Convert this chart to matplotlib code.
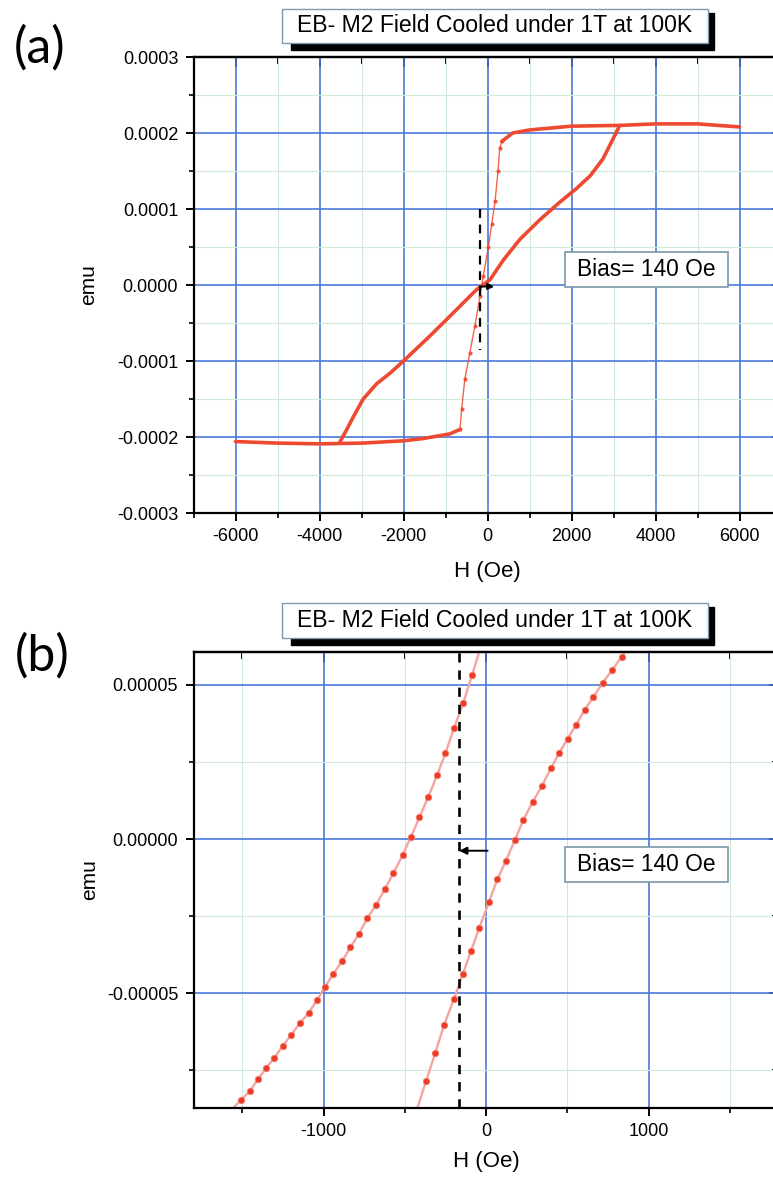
import matplotlib
matplotlib.use('Agg')
import matplotlib.pyplot as plt
import matplotlib.patches as patches
from matplotlib.ticker import MultipleLocator, FormatStrFormatter

plt.rcParams['font.family'] = ['Liberation Sans', 'DejaVu Sans']
plt.rcParams['axes.unicode_minus'] = False

# ---- (a) full hysteresis loop, H in Oe, moment in emu ----
# descending branch: saturation plateau, fast switch, negative plateau
h_top = [6000, 5000, 4000, 3150, 2000, 1000, 600, 340]
m_top = [2.08e-4, 2.12e-4, 2.12e-4, 2.10e-4, 2.09e-4, 2.04e-4, 2.00e-4, 1.89e-4]
h_switch = [340, 290, 250, 180, 100, 20, -100, -180, -300, -420, -540, -615, -655]
m_switch = [1.89e-4, 1.80e-4, 1.50e-4, 1.10e-4, 8.0e-5, 5.0e-5, 1.2e-5, -1.5e-5,
            -5.4e-5, -8.9e-5, -1.24e-4, -1.63e-4, -1.90e-4]
h_bottom = [-655, -900, -1530, -2000, -2960, -3990, -5020, -6000]
m_bottom = [-1.90e-4, -1.96e-4, -2.02e-4, -2.05e-4, -2.08e-4, -2.09e-4, -2.08e-4, -2.06e-4]
# ascending branch
h_rise = [-3510, -3350, -3200, -2960, -2640, -2320, -2000, -1370, -730, -260, 60,
          380, 770, 1250, 1700, 2120, 2450, 2750, 2950, 3150]
m_rise = [-2.06e-4, -1.90e-4, -1.74e-4, -1.50e-4, -1.30e-4, -1.16e-4, -1.00e-4,
          -6.7e-5, -3.2e-5, -6.0e-6, 7.0e-6, 3.3e-5, 6.0e-5, 8.6e-5, 1.08e-4,
          1.27e-4, 1.44e-4, 1.66e-4, 1.88e-4, 2.10e-4]

# ---- (b) zoom around zero field ----
hb_left = [-1607, -1508, -1452, -1403, -1354, -1305, -1251, -1200, -1145, -1091, -1040,
           -991, -940, -884, -835, -783, -730, -677, -622, -570, -513, -462, -410,
           -355, -300, -250, -197, -140, -86, -28]
mb_left = [-9.00e-5, -8.47e-5, -8.17e-5, -7.80e-5, -7.44e-5, -7.12e-5, -6.72e-5, -6.36e-5,
           -5.98e-5, -5.64e-5, -5.23e-5, -4.80e-5, -4.38e-5, -3.95e-5, -3.52e-5,
           -3.09e-5, -2.57e-5, -2.14e-5, -1.62e-5, -1.11e-5, -5.2e-6, 7.0e-7, 7.0e-6,
           1.37e-5, 2.08e-5, 2.78e-5, 3.60e-5, 4.41e-5, 5.32e-5, 6.30e-5]
hb_right = [-433, -369, -312, -257, -197, -143, -92, -41, 17, 70, 123, 178, 230, 287,
            345, 400, 451, 503, 554, 607, 660, 718, 777, 835, 900]
mb_right = [-8.90e-5, -7.86e-5, -6.94e-5, -6.02e-5, -5.19e-5, -4.39e-5, -3.63e-5,
            -2.88e-5, -2.06e-5, -1.31e-5, -7.0e-6, -3.0e-7, 6.2e-6, 1.20e-5, 1.73e-5,
            2.30e-5, 2.80e-5, 3.26e-5, 3.70e-5, 4.19e-5, 4.60e-5, 5.07e-5, 5.49e-5,
            5.92e-5, 6.40e-5]

bias_a = -180
bias_b = -165

W, H = 773, 1180
RED = '#ee4a32'
BLUE = '#4a78da'
GREEN = '#cfe9d6'


def fx(px):
    return px / W


def fy(py):
    return 1 - py / H


def style_axes(ax, xmaj, xmin, ymaj, ymin, yfmt):
    ax.set_axisbelow(True)
    ax.xaxis.set_major_locator(MultipleLocator(xmaj))
    ax.xaxis.set_minor_locator(MultipleLocator(xmin))
    ax.yaxis.set_major_locator(MultipleLocator(ymaj))
    ax.yaxis.set_minor_locator(MultipleLocator(ymin))
    ax.yaxis.set_major_formatter(FormatStrFormatter(yfmt))
    ax.grid(which='minor', color=GREEN, lw=0.8)
    ax.grid(which='major', color=BLUE, lw=1.2)
    for s in ax.spines.values():
        s.set_linewidth(1.6)
    ax.tick_params(which='major', direction='out', length=6, width=1.4, pad=5, labelsize=13)
    ax.tick_params(which='minor', direction='out', length=3.5, width=1.2)
    top = ax.secondary_xaxis('top')
    top.xaxis.set_major_locator(MultipleLocator(xmaj))
    top.xaxis.set_minor_locator(MultipleLocator(xmin))
    top.tick_params(which='both', direction='in', labeltop=False, width=1.4)
    top.tick_params(which='major', length=7)
    top.tick_params(which='minor', length=5)
    top.spines['top'].set_linewidth(1.6)
    right = ax.secondary_yaxis('right')
    right.yaxis.set_major_locator(MultipleLocator(ymaj))
    right.yaxis.set_minor_locator(MultipleLocator(ymin))
    right.tick_params(which='both', direction='in', labelright=False, width=1.4)
    right.tick_params(which='major', length=7)
    right.tick_params(which='minor', length=5)
    ax.set_xlabel('H (Oe)', fontsize=16)
    ax.set_ylabel('emu', fontsize=15)
    ax.yaxis.set_label_coords(-0.162, 0.5)


def title_box(fig, y0, y1):
    fig.add_artist(patches.Rectangle((fx(291), fy(y1 + 7)), (714 - 291) / W, (y1 + 7 - y0 - 4) / H,
                                     transform=fig.transFigure, color='black'))
    fig.add_artist(patches.Rectangle((fx(282), fy(y1)), (708 - 282) / W, (y1 - y0) / H,
                                     transform=fig.transFigure, facecolor='white',
                                     edgecolor='#7f9aaa', lw=1.0))
    fig.text(fx(495), fy((y0 + y1) / 2), 'EB- M2 Field Cooled under 1T at 100K',
             ha='center', va='center', fontsize=16.6)


def bias_box(fig, y0, y1):
    fig.add_artist(patches.Rectangle((fx(565), fy(y1)), (728 - 565) / W, (y1 - y0) / H,
                                     transform=fig.transFigure, facecolor='white',
                                     edgecolor='#7a98a8', lw=1.2))
    fig.text(fx(646.5), fy((y0 + y1) / 2), 'Bias= 140 Oe', ha='center', va='center', fontsize=16.4)


fig = plt.figure(figsize=(W / 100, H / 100), dpi=100)

# panel (a)
ax1 = fig.add_axes([fx(193.5), fy(513), (781.5 - 193.5) / W, 456 / H])
ax1.plot(h_top, m_top, color=RED, lw=2.6, solid_capstyle='round')
ax1.plot(h_bottom, m_bottom, color=RED, lw=2.6, solid_capstyle='round')
ax1.plot(h_rise, m_rise, color=RED, lw=2.6, solid_capstyle='round')
ax1.plot(h_switch, m_switch, color=RED, lw=1.0, marker='o', ms=2, alpha=0.85)
ax1.plot([bias_a, bias_a], [1.0e-4, -8.5e-5], color='black', lw=1.6, ls=(0, (4, 3)))
ax1.annotate('', xy=(160, -2e-6), xytext=(bias_a, -2e-6),
             arrowprops=dict(arrowstyle='-|>', color='black', lw=1.4, mutation_scale=9,
                             shrinkA=0, shrinkB=0))
ax1.set_xlim(-7000, 7000)
ax1.set_ylim(-0.0003, 0.0003)
style_axes(ax1, 2000, 1000, 0.0001, 0.00005, '%.4f')
ax1.xaxis.set_label_coords(0.5, -0.105)

# panel (b)
ax2 = fig.add_axes([fx(193.5), fy(1108), (778.5 - 193.5) / W, 456 / H])
ax2.plot(hb_left, mb_left, color='#f4a5a0', lw=1.7, marker='o', ms=4.6,
         markerfacecolor='#ec3b26', markeredgecolor='#f27a68', markeredgewidth=0.6)
ax2.plot(hb_right, mb_right, color='#f4a5a0', lw=1.7, marker='o', ms=4.6,
         markerfacecolor='#ec3b26', markeredgecolor='#f27a68', markeredgewidth=0.6)
ax2.axvline(bias_b, color='black', lw=1.9, ls=(0, (3.5, 3)))
ax2.annotate('', xy=(bias_b, -3.8e-6), xytext=(10, -3.8e-6),
             arrowprops=dict(arrowstyle='-|>', color='black', lw=1.4, mutation_scale=11,
                             shrinkA=0, shrinkB=0))
ax2.set_xlim(-1800, 1800)
ax2.set_ylim(-8.73e-5, 6.07e-5)
style_axes(ax2, 1000, 500, 0.00005, 0.000025, '%.5f')
ax2.xaxis.set_label_coords(0.5, -0.095)

title_box(fig, 9, 43)
title_box(fig, 603, 638)
bias_box(fig, 252, 287)
bias_box(fig, 847, 882)

fig.text(fx(40), fy(48), '(a)', ha='center', va='center', fontsize=36, family=['Lato', 'DejaVu Sans'])
fig.text(fx(42), fy(656), '(b)', ha='center', va='center', fontsize=36, family=['Lato', 'DejaVu Sans'])

fig.savefig('out.png', dpi=100)
